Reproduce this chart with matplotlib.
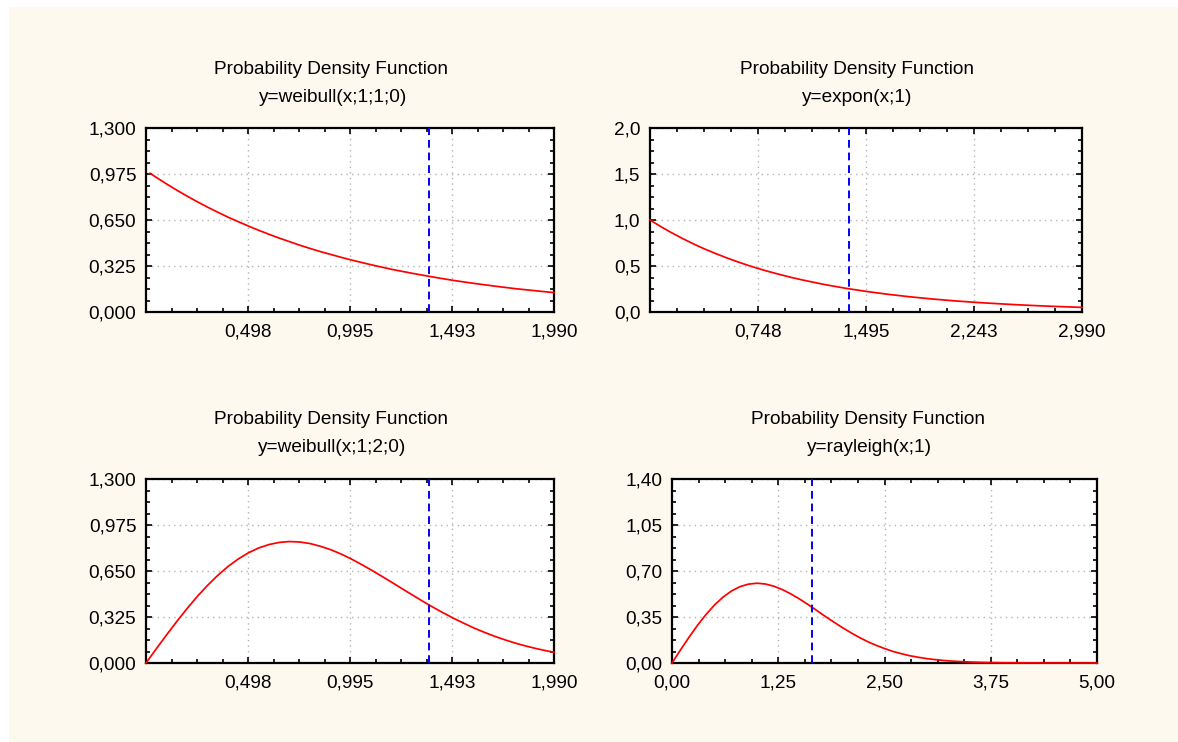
import matplotlib
matplotlib.use("Agg")
import matplotlib.pyplot as plt
from matplotlib.ticker import FixedLocator, MultipleLocator
from matplotlib.patches import Rectangle

plt.rcParams['font.family'] = ['Liberation Sans', 'DejaVu Sans']

# ---------------- data ----------------
titles = ["Probability Density Function"] * 4
subtitles = ["y=weibull(x;1;1;0)", "y=expon(x;1)", "y=weibull(x;1;2;0)", "y=rayleigh(x;1)"]

x_tl = [0.02, 0.05, 0.1, 0.15, 0.2, 0.25, 0.3, 0.35, 0.4, 0.45, 0.5, 0.55, 0.6, 0.65, 0.7,
        0.75, 0.8, 0.85, 0.9, 0.95, 1.0, 1.1, 1.2, 1.3, 1.4, 1.5, 1.6, 1.7, 1.8, 1.9, 1.99]
y_tl = [0.980, 0.951, 0.905, 0.861, 0.819, 0.779, 0.741, 0.705, 0.670, 0.638, 0.607, 0.577,
        0.549, 0.522, 0.497, 0.472, 0.449, 0.427, 0.407, 0.387, 0.368, 0.333, 0.301, 0.273,
        0.247, 0.223, 0.202, 0.183, 0.165, 0.150, 0.137]

x_tr = [0.0, 0.075, 0.15, 0.225, 0.3, 0.375, 0.45, 0.525, 0.6, 0.675, 0.75, 0.825, 0.9,
        0.975, 1.05, 1.2, 1.35, 1.5, 1.65, 1.8, 1.95, 2.1, 2.25, 2.4, 2.55, 2.7, 2.85, 2.99]
y_tr = [1.000, 0.928, 0.861, 0.799, 0.741, 0.687, 0.638, 0.592, 0.549, 0.509, 0.472, 0.438,
        0.407, 0.377, 0.350, 0.301, 0.259, 0.223, 0.192, 0.165, 0.142, 0.122, 0.105, 0.091,
        0.078, 0.067, 0.058, 0.050]

x_bl = [0.0, 0.05, 0.1, 0.15, 0.2, 0.25, 0.3, 0.35, 0.4, 0.45, 0.5, 0.55, 0.6, 0.65, 0.7,
        0.75, 0.8, 0.85, 0.9, 0.95, 1.0, 1.05, 1.1, 1.15, 1.2, 1.25, 1.3, 1.35, 1.4, 1.45,
        1.5, 1.55, 1.6, 1.65, 1.7, 1.75, 1.8, 1.85, 1.9, 1.95, 1.99]
y_bl = [0.000, 0.100, 0.198, 0.293, 0.384, 0.470, 0.548, 0.619, 0.682, 0.735, 0.779, 0.813,
        0.837, 0.852, 0.858, 0.855, 0.844, 0.825, 0.801, 0.771, 0.736, 0.697, 0.656, 0.613,
        0.569, 0.524, 0.480, 0.436, 0.394, 0.354, 0.316, 0.281, 0.247, 0.217, 0.189, 0.164,
        0.141, 0.121, 0.103, 0.087, 0.076]

x_br = [0.0, 0.1, 0.2, 0.3, 0.4, 0.5, 0.6, 0.7, 0.8, 0.9, 1.0, 1.1, 1.2, 1.3, 1.4, 1.5,
        1.6, 1.7, 1.8, 1.9, 2.0, 2.1, 2.2, 2.3, 2.4, 2.5, 2.6, 2.7, 2.8, 2.9, 3.0, 3.1,
        3.2, 3.3, 3.4, 3.5, 3.6, 3.7, 3.8, 3.9, 4.0, 4.2, 4.4, 4.6, 4.8, 5.0]
y_br = [0.000, 0.0995, 0.196, 0.287, 0.369, 0.441, 0.501, 0.548, 0.581, 0.600, 0.607, 0.601,
        0.584, 0.558, 0.525, 0.487, 0.445, 0.401, 0.356, 0.313, 0.271, 0.232, 0.196, 0.163,
        0.135, 0.110, 0.088, 0.0705, 0.055, 0.0433, 0.033, 0.0254, 0.019, 0.0143, 0.0105,
        0.0077, 0.0055, 0.0039, 0.0028, 0.0019, 0.0013, 0.0006, 0.0003, 0.0001, 0.0, 0.0]

marker_x = [1.38, 1.38, 1.38, 1.65]

xlims = [(0, 1.99), (0, 2.99), (0, 1.99), (0, 5.0)]
ylims = [(0, 1.3), (0, 2.0), (0, 1.3), (0, 1.4)]
xticks = [[0.4975, 0.995, 1.4925, 1.99], [0.7475, 1.495, 2.2425, 2.99],
          [0.4975, 0.995, 1.4925, 1.99], [0.0, 1.25, 2.5, 3.75, 5.0]]
xticklabels = [["0,498", "0,995", "1,493", "1,990"], ["0,748", "1,495", "2,243", "2,990"],
               ["0,498", "0,995", "1,493", "1,990"], ["0,00", "1,25", "2,50", "3,75", "5,00"]]
yticks = [[0, 0.325, 0.65, 0.975, 1.3], [0, 0.5, 1.0, 1.5, 2.0],
          [0, 0.325, 0.65, 0.975, 1.3], [0, 0.35, 0.7, 1.05, 1.4]]
yticklabels = [["0,000", "0,325", "0,650", "0,975", "1,300"], ["0,0", "0,5", "1,0", "1,5", "2,0"],
               ["0,000", "0,325", "0,650", "0,975", "1,300"], ["0,00", "0,35", "0,70", "1,05", "1,40"]]

xs = [x_tl, x_tr, x_bl, x_br]
ys = [y_tl, y_tr, y_bl, y_br]

# ---------------- layout (pixels) ----------------
W, H = 1178, 742
boxes = [(146, 554, 128, 312), (650, 1082, 128, 312), (146, 554, 479, 663), (672, 1097, 479, 663)]
title_x = [331, 857, 331, 868]
sub_x = [333, 857, 332, 869]
title_y = [69, 69, 419, 419]
sub_y = [98, 98, 448, 448]

fig = plt.figure(figsize=(W / 100, H / 100), dpi=100, facecolor='white')
fig.patches.append(Rectangle((9 / W, 0), 1 - 9 / W, 1 - 7 / H, transform=fig.transFigure,
                             facecolor='#fdf9ee', edgecolor='none', zorder=-10))

FS = 13.7
for i in range(4):
    l, r, t, b = boxes[i]
    ax = fig.add_axes([l / W, 1 - b / H, (r - l) / W, (b - t) / H])
    ax.set_facecolor('white')
    ax.plot(xs[i], ys[i], color='#ff0000', lw=1.25, zorder=3, clip_on=False,
            solid_joinstyle='round')
    ax.axvline(marker_x[i], color='#0000ff', lw=1.4, ls=(0, (4, 2.5)), zorder=4)
    ax.set_xlim(*xlims[i])
    ax.set_ylim(*ylims[i])
    ax.xaxis.set_major_locator(FixedLocator(xticks[i]))
    ax.set_xticklabels(xticklabels[i])
    ax.yaxis.set_major_locator(FixedLocator(yticks[i]))
    ax.set_yticklabels(yticklabels[i])
    xstep = xticks[i][1] - xticks[i][0]
    ystep = yticks[i][1] - yticks[i][0]
    ax.xaxis.set_minor_locator(MultipleLocator(xstep / 4))
    ax.yaxis.set_minor_locator(MultipleLocator(ystep / 4))
    ax.tick_params(which='both', direction='in', top=True, right=True, color='black',
                   width=1.2, labelsize=FS)
    ax.tick_params(which='major', length=4)
    ax.tick_params(which='minor', length=3)
    ax.tick_params(axis='x', pad=8)
    ax.tick_params(axis='y', pad=7)
    for s in ax.spines.values():
        s.set_linewidth(1.6)
        s.set_color('black')
    ax.grid(True, which='major', color='#b4b4b4', ls=(0, (1, 3)), lw=1.0)
    ax.set_axisbelow(True)

    fig.text(title_x[i] / W, 1 - title_y[i] / H, titles[i], ha='center', va='center',
             fontsize=FS)
    fig.text(sub_x[i] / W, 1 - sub_y[i] / H, subtitles[i], ha='center', va='center',
             fontsize=FS)

fig.savefig('out.png', dpi=100, facecolor=fig.get_facecolor())
